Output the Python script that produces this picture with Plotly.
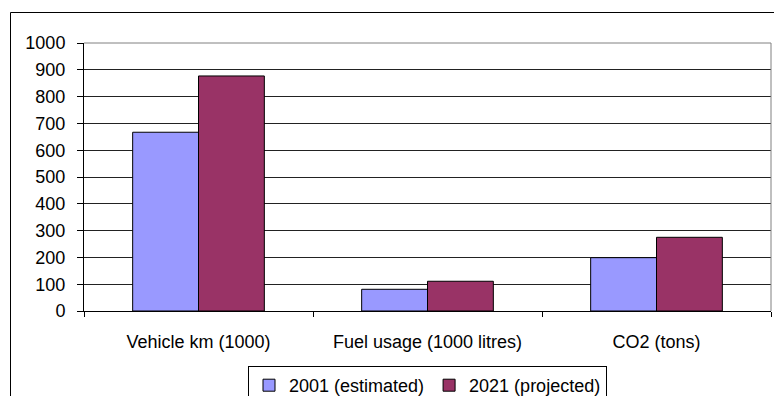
import plotly.graph_objects as go

categories = ["Vehicle km (1000)", "Fuel usage (1000 litres)", "CO2 (tons)"]
series_names = ["2001 (estimated)", "2021 (projected)"]
values_2001 = [667, 81, 199]
values_2021 = [877, 111, 275]
y_ticks = [0, 100, 200, 300, 400, 500, 600, 700, 800, 900, 1000]

colors = ["#9999FF", "#993366"]
FONT = "Liberation Sans, Arial, sans-serif"

fig = go.Figure()
for name, vals, col in zip(series_names, [values_2001, values_2021], colors):
    fig.add_trace(go.Bar(
        x=categories, y=vals, name=name,
        marker=dict(color=col, line=dict(color="black", width=1)),
    ))

# plot area in pixels: x 84..771, y 43..311
L, R, T, B = 84, 771, 43, 311
W, H = 774, 396
pw, ph = R - L, B - T

def px(x):
    return (x - L) / pw

def py(y):
    return (B - y) / ph

fig.update_layout(
    width=W, height=H,
    margin=dict(l=L, r=W - R, t=T, b=H - B, pad=0, autoexpand=False),
    paper_bgcolor="white", plot_bgcolor="white",
    barmode="group", bargap=0.425, bargroupgap=0,
    font=dict(family=FONT, size=18, color="black"),
    showlegend=True,
    legend=dict(
        orientation="h", x=0.5, xanchor="center", y=py(366), yanchor="top",
        bordercolor="black", borderwidth=1, bgcolor="white",
        font=dict(family=FONT, size=18, color="black"),
        itemwidth=30, tracegroupgap=0,
    ),
    xaxis=dict(
        type="category", showgrid=False, showline=True, linecolor="black", linewidth=1,
        ticks="outside", tickson="boundaries", ticklen=5, tickcolor="black",
        ticklabelstandoff=14, fixedrange=True, automargin=False,
    ),
    yaxis=dict(
        range=[0, 1000], tickvals=y_ticks, ticktext=[str(v) for v in y_ticks],
        showgrid=True, gridcolor="#222222", gridwidth=1,
        showline=True, linecolor="black", linewidth=1,
        ticks="outside", ticklen=6, tickcolor="black", ticklabelstandoff=8,
        zeroline=False, fixedrange=True, automargin=False,
    ),
    shapes=[
        # outer chart border (extends past the image on right and bottom)
        dict(type="rect", xref="paper", yref="paper",
             x0=px(10.5), x1=px(790), y0=py(420), y1=py(12.5),
             line=dict(color="black", width=1), fillcolor="rgba(0,0,0,0)", layer="above"),
        # plot area right and top border (gray)
        dict(type="line", xref="paper", yref="paper", x0=1, x1=1, y0=0, y1=1,
             line=dict(color="#808080", width=1)),
        dict(type="line", xref="paper", yref="paper", x0=0, x1=1, y0=1, y1=1,
             line=dict(color="#808080", width=1)),
    ],
)

fig.write_html(
    "out.html",
    config={"displayModeBar": False},
    post_script="document.body.style.margin='0';document.body.style.overflow='hidden';",
)
